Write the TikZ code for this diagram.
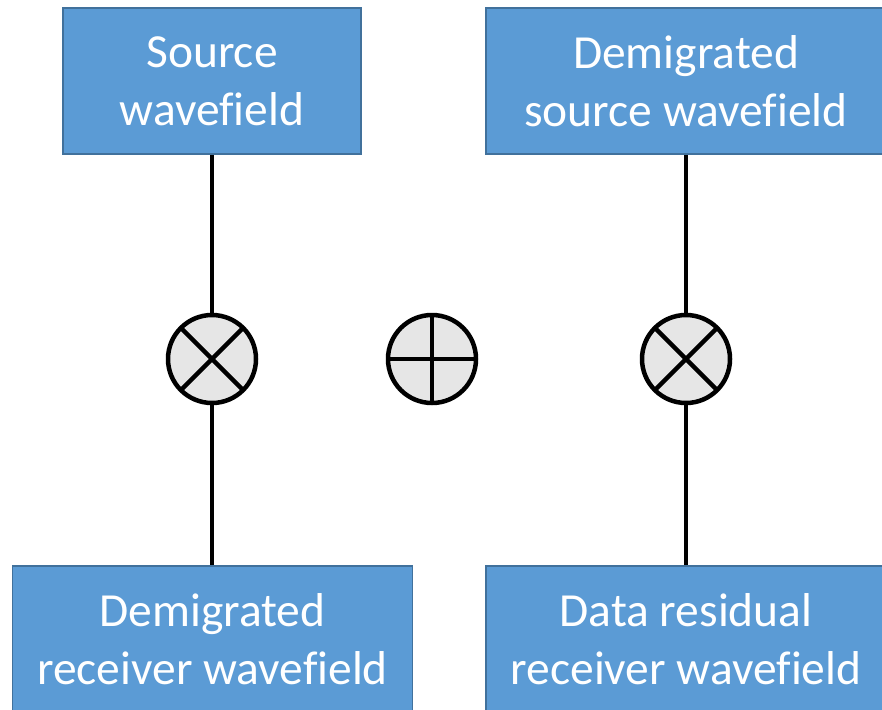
\documentclass[tikz,border=0pt]{standalone}
\usepackage{fontspec}
\setmainfont[Ligatures=NoCommon]{Carlito}
\definecolor{boxblue}{HTML}{5B9BD5}
\definecolor{boxedge}{HTML}{41719C}
\definecolor{opgray}{HTML}{E6E6E6}

\begin{document}
\begin{tikzpicture}[x=1pt,y=-1pt,
  field/.style={draw=boxedge,fill=boxblue,line width=1.5pt,text=white,align=center,
    inner sep=0pt,minimum height=146pt,font=\fontsize{47.5}{58}\selectfont},
  op/.style={circle,draw,fill=opgray,line width=4.5pt,minimum size=88pt,inner sep=0pt,outer sep=0pt},
  wire/.style={line width=4.5pt}]
\useasboundingbox (0,0) rectangle (882,709);
\clip (0,0) rectangle (882,709);

%Wavefields
\node[field,minimum width=298pt] (src) at (212,81) {Source\\wavefield};
\node[field,minimum width=400pt] (dsrc) at (686,81) {Demigrated\\source wavefield};
\node[field,minimum width=400pt] (drec) at (212.5,639) {Demigrated\\receiver wavefield};
\node[field,minimum width=400pt] (res) at (686,639) {Data residual\\receiver wavefield};

%Operators
\node[op] (mulL) at (212,359) {};
\node[op] (plus) at (432,359) {};
\node[op] (mulR) at (686,359) {};
\draw[wire] (mulL.north west) -- (mulL.south east);
\draw[wire] (mulL.north east) -- (mulL.south west);
\draw[wire] (mulR.north west) -- (mulR.south east);
\draw[wire] (mulR.north east) -- (mulR.south west);
\draw[wire] (plus.north) -- (plus.south);
\draw[wire] (plus.west) -- (plus.east);

%Links
\draw[wire] (src) -- (mulL);
\draw[wire] (mulL) -- (drec.north -| mulL);
\draw[wire] (dsrc) -- (mulR);
\draw[wire] (mulR) -- (res);
\end{tikzpicture}
\end{document}
